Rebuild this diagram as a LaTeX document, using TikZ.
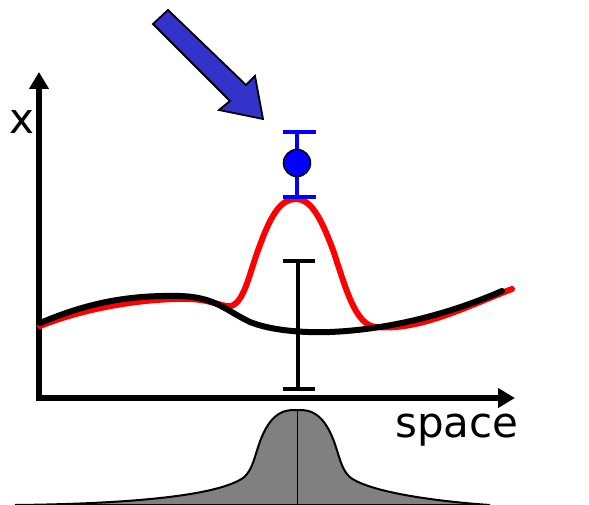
\documentclass[tikz,border=0pt]{standalone}
\usepackage{fontspec}
\setmainfont{DejaVu Sans}
\usetikzlibrary{arrows.meta}
\definecolor{arrowblue}{HTML}{3333CC}
\tikzset{
  axis/.style={line width=6pt,-{Triangle[width=19pt,length=17pt]}},
  curve/.style={line width=6pt,line cap=round},
  ebar/.style={line width=4pt},
  lbl/.style={font=\fontsize{42}{42}\selectfont,anchor=base,inner sep=0pt},
}
\begin{document}
\begin{tikzpicture}[x=1pt,y=-1pt]
\useasboundingbox (0,0) rectangle (589,505);
% distribution
\path[fill=black!50,draw=black,line width=2pt]
  (15,505) .. controls (120,504) and (215,497) .. (243,478)
  .. controls (256,468) and (255,445) .. (268,425)
  .. controls (278,410) and (288,410) .. (297,410)
  .. controls (306,410) and (316,410) .. (326,425)
  .. controls (339,445) and (338,468) .. (351,478)
  .. controls (379,497) and (474,504) .. (490,505) -- cycle;
\coordinate (dtop) at (297,410);
\coordinate (dbot) at (297,505);
\draw[line width=1pt] (dtop) -- (dbot);
% axes
\coordinate (o) at (39,398);
\coordinate (ytip) at (39,72);
\coordinate (xtip) at (515,398);
\draw[axis] (39,401) -- (ytip);
\draw[axis] (36,398) -- (xtip);
\node[lbl] (xl) at (22,134) {x};
\node[lbl] (sl) at (457,437) {space};
% red curve
\draw[curve,red] (40,326) .. controls (90,306) and (150,298) .. (190,299)
  .. controls (212,300) and (222,307) .. (231,306)
  .. controls (245,302) and (250,270) .. (260,245)
  .. controls (272,212) and (282,199) .. (296,199)
  .. controls (310,199) and (320,215) .. (333,250)
  .. controls (345,285) and (355,327) .. (377,327)
  .. controls (420,331) and (470,305) .. (512,289);
% black curve
\draw[curve,black] (40,323) .. controls (90,302) and (130,295) .. (180,296)
  .. controls (215,297) and (225,310) .. (250,322)
  .. controls (270,330) and (300,333) .. (330,332)
  .. controls (380,330) and (440,318) .. (502,291);
% black error bar
\coordinate (bt) at (298,261);
\coordinate (bb) at (298,389);
\draw[ebar] (bt) -- (bb);
\draw[ebar] (283,261) -- (315,261);
\draw[ebar] (283,389) -- (315,389);
% blue error bar
\coordinate (ut) at (297,132);
\coordinate (ub) at (297,197);
\draw[ebar,blue] (ut) -- (ub);
\draw[ebar,blue] (283,132) -- (316,132);
\draw[ebar,blue] (283,197) -- (316,197);
\node[circle,fill=blue,draw=black,line width=1.5pt,minimum size=27pt,inner sep=0pt] (pt) at (297,163) {};
% big arrow
\draw[fill=arrowblue,draw=black,line width=1.8pt,line join=miter]
  (153,24) -- (168,10) -- (246,85) -- (255,76) -- (263,119) -- (219,110) -- (230,101) -- cycle;
\end{tikzpicture}
\end{document}
